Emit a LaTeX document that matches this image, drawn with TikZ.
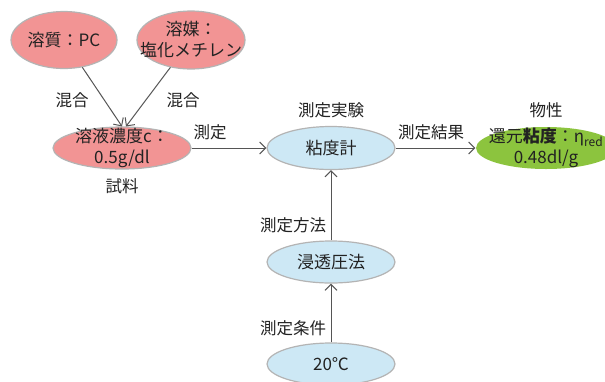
\documentclass[tikz,border=0pt]{standalone}
\usepackage{fontspec}
\setmainfont{Noto Sans CJK JP}
\usetikzlibrary{shapes.geometric,arrows.meta}
\definecolor{pinkfill}{HTML}{F29494}
\definecolor{bluefill}{HTML}{CDE8F5}
\definecolor{greenfill}{HTML}{8CC43E}
\definecolor{edgegray}{HTML}{B4B4B4}
\definecolor{linegray}{HTML}{555555}
\definecolor{txt}{HTML}{222222}
\tikzset{
  ell/.style={ellipse, draw=edgegray, line width=1.2pt, inner sep=0pt},
  etext/.style={align=center, text=txt, inner sep=0pt, font=\fontsize{17}{21}\selectfont},
  pinkell/.style={ell, fill=pinkfill},
  blueell/.style={ell, fill=bluefill},
  greenell/.style={ell, fill=greenfill, draw=none},
  lbl/.style={text=txt, font=\fontsize{16.5}{18}\selectfont, inner sep=0pt},
  conn/.style={draw=linegray, line width=1pt, -{Straight Barb[length=6pt,width=12pt,line width=1pt]}},
}
\begin{document}
\begin{tikzpicture}[x=1pt,y=-1pt]
\clip (0,0) rectangle (605,381);
\fill[white] (0,0) rectangle (605,381);
\node[pinkell, minimum width=106pt, minimum height=57pt,
  label={[etext]center:溶質：PC}] (solute) at (64,40) {};
\node[pinkell, minimum width=108pt, minimum height=58pt,
  label={[etext]center:{溶媒：\\塩化メチレン}}] (solvent) at (191,40) {};
\node[pinkell, minimum width=138pt, minimum height=42pt,
  label={[etext]center:{溶液濃度c：\\0.5g/dl}}] (solution) at (122,148) {};
\node[blueell, minimum width=128pt, minimum height=43pt,
  label={[etext]center:粘度計}] (visc) at (331,148) {};
\node[greenell, minimum width=140pt, minimum height=42pt,
  label={[etext]center:{還元\textbf{粘度}：η\textsubscript{\fontsize{12}{12}\selectfont red}\\0.48dl/g}}] (prop) at (546,148) {};
\node[blueell, minimum width=128pt, minimum height=42pt,
  label={[etext]center:浸透圧法}] (osm) at (331,262) {};
\node[blueell, minimum width=128pt, minimum height=42pt,
  label={[etext]center:20℃}] (temp) at (331,364) {};

\node[lbl] (sample) at (122,186) {試料};
\node[lbl] (exp) at (331,110) {測定実験};
\node[lbl] (phys) at (546,110) {物性};
\node[lbl] (mix1) at (72,100) {混合};
\node[lbl] (mix2) at (183,100) {混合};
\node[lbl] (meas) at (210,132) {測定};
\node[lbl] (res) at (431,132) {測定結果};
\node[lbl] (meth) at (293,225) {測定方法};
\node[lbl] (cond) at (293,328) {測定条件};

\draw[conn] (solute) -- (solution.north);
\draw[conn] (solvent) -- ([xshift=4pt]solution.north);
\draw[conn] (solution) -- (visc);
\draw[conn] (visc) -- (prop);
\draw[conn] (osm) -- (visc);
\draw[conn] (temp) -- (osm);
\end{tikzpicture}
\end{document}
